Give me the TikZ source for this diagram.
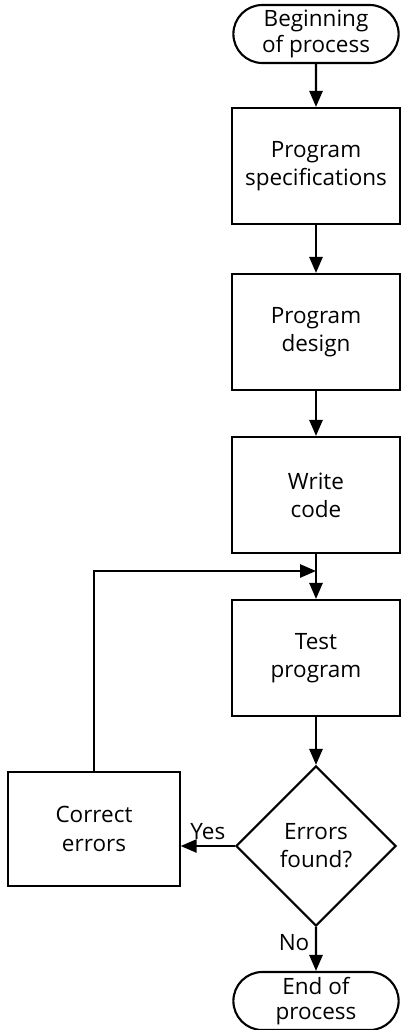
\documentclass[tikz,border=0pt]{standalone}
\usepackage{fontspec}
\setmainfont{Open Sans}
\usetikzlibrary{arrows.meta,shapes.misc,shapes.geometric}
\tikzset{
	flow/.style={-{Triangle[length=4mm,width=3.3mm]},line width=1.5pt,draw=black},
	stepbox/.style={draw,line width=1.5pt,align=center,minimum width=4.2cm,
		minimum height=2.9cm,inner sep=2pt,font=\fontsize{16}{20}\selectfont},
	terminal/.style={draw,line width=1.5pt,rounded rectangle,align=center,
		minimum width=4.2cm,minimum height=1.45cm,inner sep=1pt,
		font=\fontsize{16}{18}\selectfont},
	decision/.style={draw,line width=1.5pt,diamond,aspect=1,align=center,
		minimum size=4.0cm,inner sep=0pt,font=\fontsize{16}{20}\selectfont},
	lbl/.style={font=\fontsize{16}{18}\selectfont,inner sep=1pt},
}

\begin{document}
\begin{tikzpicture}[x=0.025cm,y=-0.025cm]
	\useasboundingbox (0,0) rectangle (402,1030);
	
	\node[terminal] (begin) at (316,34) {Beginning\\of process};
	\node[stepbox] (spec) at (316,166) {Program\\specifications};
	\node[stepbox] (design) at (316,332) {Program\\design};
	\node[stepbox] (code) at (316,495) {Write\\code};
	\node[stepbox] (test) at (316,658) {Test\\program};
	\node[decision] (found) at (316,846) {Errors\\found?};
	\node[stepbox,minimum width=4.28cm,minimum height=2.85cm] (correct) at (94,829) {Correct\\errors};
	\node[terminal] (end) at (316,1001) {End of\\process};
	
	\coordinate (join) at (316,571);
	
	\draw[flow] (begin) -- (spec);
	\draw[flow] (spec) -- (design);
	\draw[flow] (design) -- (code);
	\draw[flow] (code) -- (test);
	\draw[flow] (test) -- (found);
	\draw[flow] (found.west) -- (found.west -| correct.east)
		node[lbl,midway,above=3pt] {Yes};
	\draw[flow] (found.south) -- (end)
		node[lbl,pos=0.35,left=3pt] {No};
	\draw[flow] (correct.north) |- (join);
\end{tikzpicture}
\end{document}
